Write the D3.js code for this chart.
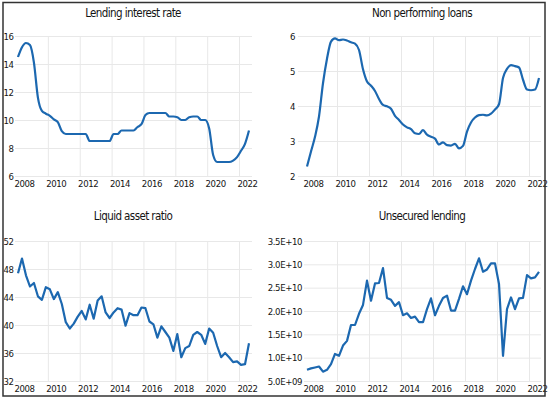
<!DOCTYPE html>
<meta charset="utf-8">
<style>
  body { margin: 0; background: #fff; }
  svg text { font-family: "Liberation Sans Narrow", "DejaVu Sans Condensed", Roboto, sans-serif; fill: #141414; }
</style>
<body>
<div id="chart"></div>
<script src="https://cdnjs.cloudflare.com/ajax/libs/d3/7.8.5/d3.min.js"></script>
<script>
// quarterly series, 2008 Q1 .. 2022 Q3
const yearLabels = [2008, 2010, 2012, 2014, 2016, 2018, 2020, 2022];

const lendingRate = [
  14.5, 15.2, 15.5, 15.35, 14.1, 11.6, 10.65, 10.45, 10.3, 10.05, 9.85, 9.2,
  9.0, 9.0, 9.0, 9.0, 9.0, 9.0, 8.5, 8.5, 8.5, 8.5, 8.5, 8.5,
  9.0, 9.0, 9.25, 9.25, 9.25, 9.25, 9.5, 9.7, 10.35, 10.5, 10.5, 10.5,
  10.5, 10.5, 10.25, 10.25, 10.2, 10.0, 10.0, 10.2, 10.25, 10.25, 10.0, 10.0,
  9.4, 7.5, 7.0, 7.0, 7.0, 7.0, 7.1, 7.35, 7.8, 8.3, 9.25
];

const nonPerformingLoans = [
  2.27, 2.7, 3.12, 3.7, 4.65, 5.35, 5.84, 5.93, 5.88, 5.9, 5.87, 5.82,
  5.78, 5.6, 5.05, 4.7, 4.58, 4.43, 4.2, 4.03, 3.99, 3.92, 3.72, 3.6,
  3.47, 3.39, 3.34, 3.22, 3.2, 3.31, 3.18, 3.12, 3.07, 2.9, 2.96, 2.88,
  2.87, 2.92, 2.79, 2.86, 3.27, 3.53, 3.67, 3.74, 3.75, 3.73, 3.78, 3.9,
  4.05, 4.8, 5.06, 5.17, 5.14, 5.1, 4.75, 4.47, 4.45, 4.47, 4.8
];

const liquidAssetRatio = [
  47.4, 49.5, 47.1, 45.5, 46.0, 44.1, 43.6, 45.4, 45.1, 43.7, 44.7, 43.0,
  40.4, 39.5, 40.2, 41.2, 42.0, 40.8, 42.9, 40.9, 43.5, 44.1, 41.8, 41.0,
  41.8, 42.4, 42.2, 39.9, 41.7, 41.4, 41.4, 42.5, 42.4, 40.5, 40.1, 38.2,
  39.8, 39.0, 38.2, 36.3, 38.7, 35.4, 36.7, 37.0, 38.6, 39.0, 38.6, 37.3,
  39.5, 38.9, 37.0, 35.4, 36.0, 35.4, 34.7, 34.8, 34.3, 34.4, 37.4
];

// billions
const unsecuredLending = [
  7.4, 7.7, 7.9, 8.1, 7.0, 7.4, 8.6, 10.8, 10.4, 12.6, 13.6, 17.0,
  17.0, 19.4, 21.3, 26.5, 22.2, 25.9, 26.0, 29.2, 22.8, 22.4, 21.1, 21.9,
  19.1, 19.5, 18.5, 18.8, 17.6, 17.6, 20.4, 22.7, 19.1, 21.1, 22.8, 23.3,
  20.1, 20.1, 22.6, 25.3, 23.6, 26.5, 29.0, 31.3, 28.4, 28.9, 30.2, 30.2,
  25.8, 10.4, 20.4, 22.9, 20.4, 22.7, 22.8, 27.7, 27.0, 27.2, 28.4
].map(v => v * 1e9);

const sciFormat = d => {
  const e = Math.floor(Math.log10(d));
  return (d / Math.pow(10, e)).toFixed(1) + "E+" + String(e).padStart(2, "0");
};

const panels = [
  { title: "Lending interest rate", values: lendingRate, yDomain: [6, 16], yTicks: [6, 8, 10, 12, 14, 16],
    fmt: d => d, x0: 18, x1: 249, top: 36, bottom: 176, labelX: 13.5, gridL: 15, gridR: 252, titleX: 133, titleY: 17, curve: d3.curveMonotoneX },
  { title: "Non performing loans", values: nonPerformingLoans, yDomain: [2, 6], yTicks: [2, 3, 4, 5, 6],
    fmt: d => d, x0: 307, x1: 539, top: 36, bottom: 176, labelX: 295, gridL: 298, gridR: 541, titleX: 422, titleY: 17, curve: d3.curveMonotoneX },
  { title: "Liquid asset ratio", values: liquidAssetRatio, yDomain: [32, 52], yTicks: [32, 36, 40, 44, 48, 52],
    fmt: d => d, x0: 18, x1: 249, top: 241, bottom: 381, labelX: 13.5, gridL: 15, gridR: 252, titleX: 133, titleY: 220, curve: d3.curveLinear },
  { title: "Unsecured lending", values: unsecuredLending, yDomain: [5e9, 3.5e10], yTicks: [5e9, 1e10, 1.5e10, 2e10, 2.5e10, 3e10, 3.5e10],
    fmt: sciFormat, x0: 307, x1: 539, top: 241, bottom: 381, labelX: 302, gridL: 304, gridR: 541, titleX: 422, titleY: 220, curve: d3.curveLinear }
];

const svg = d3.select("#chart").append("svg")
  .attr("width", 550)
  .attr("height", 399);

svg.append("rect").attr("width", 550).attr("height", 399).attr("fill", "#fff");

panels.forEach(p => {
  const x = d3.scaleLinear().domain([0, p.values.length - 1]).range([p.x0, p.x1]);
  const y = d3.scaleLinear().domain(p.yDomain).range([p.bottom, p.top]);
  const g = svg.append("g");

  // horizontal gridlines
  g.append("g")
    .attr("transform", `translate(${p.gridL},0)`)
    .call(d3.axisLeft(y).tickValues(p.yTicks).tickSize(-(p.gridR - p.gridL)).tickFormat(""))
    .call(s => s.select(".domain").remove())
    .selectAll("line").attr("stroke", "#e8e8e8");

  // vertical gridlines between year groups
  g.append("g")
    .attr("transform", `translate(0,${p.bottom})`)
    .call(d3.axisBottom(x).tickValues(d3.range(7.5, p.values.length - 1, 8)).tickSize(-(p.bottom - p.top)).tickFormat(""))
    .call(s => s.select(".domain").remove())
    .selectAll("line").attr("stroke", "#e8e8e8");

  // y labels
  g.append("g")
    .attr("transform", `translate(${p.labelX},0)`)
    .call(d3.axisLeft(y).tickValues(p.yTicks).tickSize(0).tickPadding(0).tickFormat(p.fmt))
    .call(s => s.select(".domain").remove())
    .selectAll("text").attr("font-size", 9.5).attr("letter-spacing", "-0.4px");

  // x labels, centred on each year's quarters
  g.append("g")
    .attr("transform", `translate(0,${p.bottom + 4})`)
    .call(d3.axisBottom(x).tickValues(yearLabels.map(yr => (yr - 2008) * 4 + 1.5)).tickSize(0).tickPadding(0)
      .tickFormat(i => 2008 + (i - 1.5) / 4))
    .call(s => s.select(".domain").remove())
    .selectAll("text").attr("font-size", 9.5).attr("letter-spacing", "-0.4px");

  g.append("path")
    .datum(p.values)
    .attr("fill", "none")
    .attr("stroke", "#1c68b0")
    .attr("stroke-width", 2.2)
    .attr("stroke-linejoin", "round")
    .attr("d", d3.line().x((d, i) => x(i)).y(d => y(d)).curve(p.curve));

  g.append("text")
    .attr("x", p.titleX)
    .attr("y", p.titleY)
    .attr("text-anchor", "middle")
    .attr("font-size", 11.5)
    .attr("letter-spacing", "-0.6px")
    .text(p.title);
});

// outer frame
svg.append("rect")
  .attr("x", 3).attr("y", 2.5)
  .attr("width", 542).attr("height", 393.5)
  .attr("fill", "none")
  .attr("stroke", "#333")
  .attr("stroke-width", 1.5);
</script>
</body>
